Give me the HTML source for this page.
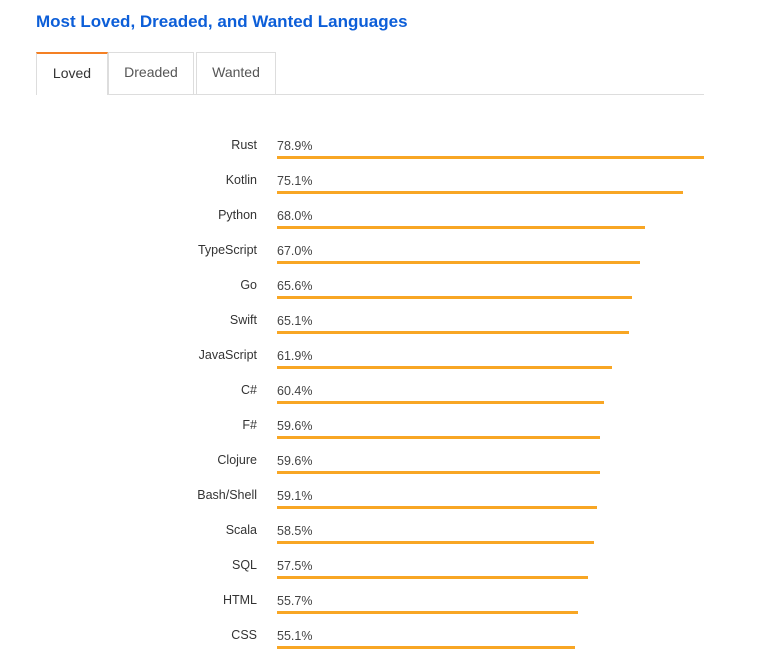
<!DOCTYPE html>
<html><head><meta charset="utf-8"><style>
body{margin:0;width:767px;height:657px;background:#fff;font-family:"Liberation Sans",Arial,sans-serif;position:relative;overflow:hidden}
h1{position:absolute;left:36px;top:12px;margin:0;font-size:17px;font-weight:bold;color:#0c5ed8}
.tab{position:absolute;top:52px;height:42px;box-sizing:border-box;border:1px solid #ddd;border-bottom:none;font-size:14px;color:#555;text-align:center;line-height:39px;background:#fff}
.tab.active{border-top:2px solid #f48024;color:#333;height:43px}
#line{position:absolute;left:36px;top:94px;width:668px;height:1px;background:#ddd}
.lab{position:absolute;width:200px;left:57px;text-align:right;font-size:12.5px;color:#333}
.val{position:absolute;left:277px;font-size:12.5px;color:#444}
.bar{position:absolute;left:277px;height:3px;background:#f8a624}
</style></head><body>
<h1>Most Loved, Dreaded, and Wanted Languages</h1>
<div id="line"></div>
<div class="tab active" style="left:36px;width:72px">Loved</div>
<div class="tab" style="left:108px;width:86px">Dreaded</div>
<div class="tab" style="left:196px;width:80px">Wanted</div>
<div id="chart"></div>
<script>
const categories=["Rust","Kotlin","Python","TypeScript","Go","Swift","JavaScript","C#","F#","Clojure","Bash/Shell","Scala","SQL","HTML","CSS"];
const values=[78.9,75.1,68.0,67.0,65.6,65.1,61.9,60.4,59.6,59.6,59.1,58.5,57.5,55.7,55.1];
const valueLabels=["78.9%","75.1%","68.0%","67.0%","65.6%","65.1%","61.9%","60.4%","59.6%","59.6%","59.1%","58.5%","57.5%","55.7%","55.1%"];
const xScale=v=>v/Math.max(...values)*427;
const yRow=i=>137+i*35;
const chart=document.getElementById('chart');
categories.forEach((c,i)=>{
  const y=yRow(i);
  const l=document.createElement('div');l.className='lab';l.style.top=(y+1)+'px';l.textContent=c;
  
  
  chart.appendChild(l);
  const v=document.createElement('div');v.className='val';v.style.top=(y+2)+'px';v.textContent=valueLabels[i];
  
  
  chart.appendChild(v);
  const b=document.createElement('div');b.className='bar';b.style.top=(y+19)+'px';b.style.width=xScale(values[i])+'px';
  
  
  chart.appendChild(b);
});
</script>
</body></html>
